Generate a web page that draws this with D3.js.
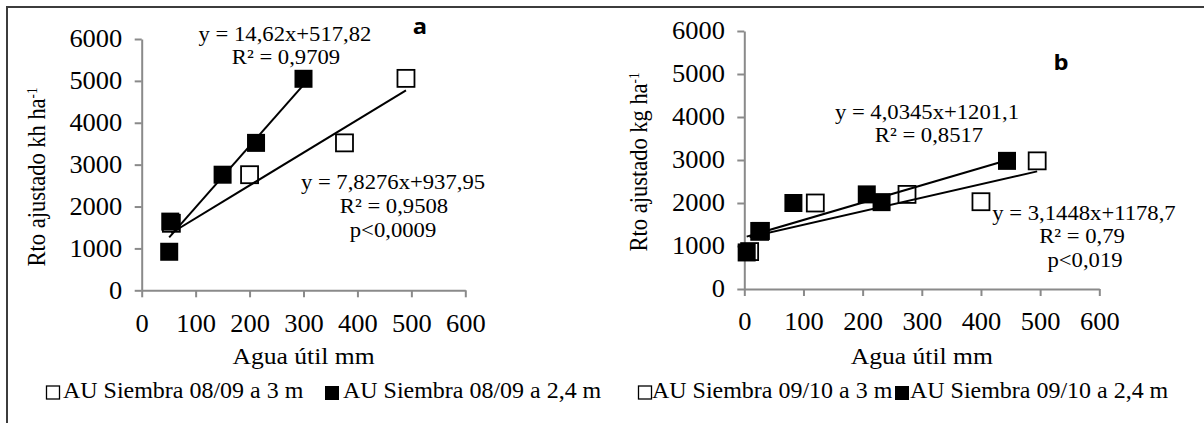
<!DOCTYPE html>
<html>
<head>
<meta charset="utf-8">
<script src="https://cdn.jsdelivr.net/npm/d3@7"></script>
<style>
  html, body { margin: 0; padding: 0; background: #fff; }
  svg { display: block; }
</style>
</head>
<body>
<svg id="chart" width="1204" height="423"></svg>
<script>
// Tick values shared by both panels
const xTicks = [0, 100, 200, 300, 400, 500, 600];
const yTicks = [0, 1000, 2000, 3000, 4000, 5000, 6000];

// Panel a — campaign 08/09
const aOpenX = [55, 200, 376, 490];
const aOpenY = [1600, 2760, 3520, 5060];
const aFillX = [51, 53, 150, 212, 300];
const aFillY = [920, 1640, 2760, 3520, 5050];

// Panel b — campaign 09/10
const bOpenX = [9, 26, 120, 275, 400, 495];
const bOpenY = [870, 1340, 2000, 2200, 2030, 2980];
const bFillX = [4, 28, 83, 207, 232, 444];
const bFillY = [850, 1350, 2000, 2200, 2020, 2980];

// Linear fits: [slope, intercept]
const aOpenFit = [7.8276, 937.95];
const aFillFit = [14.62, 517.82];
const bOpenFit = [3.1448, 1178.7];
const bFillFit = [4.0345, 1201.1];

// Legend labels
const aLegend = ["AU Siembra 08/09 a 3 m", "AU Siembra 08/09 a 2,4 m"];
const bLegend = ["AU Siembra 09/10 a 3 m", "AU Siembra 09/10 a 2,4 m"];

const SERIF = "'Liberation Serif', 'Times New Roman', Times, serif";
const SX = 1.08;           // slightly wide lettering
const AXIS_COLOR = "#8a8a8a";
const MARK = 18;

const svg = d3.select("#chart");

// outer frame (left and top edges)
svg.append("path")
  .attr("d", "M7,423V7H1204")
  .attr("fill", "none")
  .attr("stroke", "#3c3c3c")
  .attr("stroke-width", 2);

function serifText(sel, size) {
  return sel.style("font-family", SERIF).style("font-size", size + "px").attr("fill", "#000");
}

// text placed at (x, y) with the widened lettering
function label(parent, x, y, size, rot) {
  return serifText(parent.append("text"), size)
    .attr("transform", `translate(${x},${y}) scale(${SX},1)` + (rot ? ` rotate(${rot})` : ""));
}

function drawPanel(p) {
  const x = d3.scaleLinear().domain([0, 600]).range([p.x0, p.x1]);
  const y = d3.scaleLinear().domain([0, 6000]).range([p.y0, p.y1]);
  const g = svg.append("g");

  const yAxis = d3.axisLeft(y).tickValues(yTicks).tickSize(7).tickSizeOuter(0)
    .tickPadding(11).tickFormat(d3.format("d"));
  const xAxis = d3.axisBottom(x).tickValues(xTicks).tickSize(7).tickSizeOuter(0)
    .tickPadding(17).tickFormat(d3.format("d"));

  const ya = g.append("g").attr("transform", `translate(${p.x0},0)`).call(yAxis);
  const xa = g.append("g").attr("transform", `translate(0,${p.y0})`).call(xAxis);
  [ya, xa].forEach(a => {
    a.attr("font-family", null).attr("font-size", null);
    a.select(".domain").attr("stroke", AXIS_COLOR).attr("stroke-width", 2);
    a.selectAll(".tick line").attr("stroke", AXIS_COLOR).attr("stroke-width", 2);
    serifText(a.selectAll(".tick text"), 24.5).attr("transform", `scale(${SX},1)`);
  });
  // keep the x tick labels centred on their ticks after widening
  xa.selectAll(".tick text").attr("transform", `scale(${SX},1)`);

  // axis titles
  label(g, (p.x0 + p.x1) / 2, 364, 23.7).attr("text-anchor", "middle").text("Agua útil mm");

  const yt = label(g, p.ytX, p.ytY, 22.5, -90).attr("text-anchor", "middle");
  yt.append("tspan").text(p.yTitle);
  yt.append("tspan").attr("dy", "-0.55em").style("font-size", "13px").text("-1");

  // markers: open series first, filled series on top
  g.append("g").selectAll("rect")
    .data(d3.zip(p.openX, p.openY)).join("rect")
    .attr("x", d => x(d[0]) - (MARK - 1) / 2)
    .attr("y", d => y(d[1]) - (MARK - 1) / 2)
    .attr("width", MARK - 1).attr("height", MARK - 1)
    .attr("fill", "#fff").attr("stroke", "#000").attr("stroke-width", 1.8);

  g.append("g").selectAll("rect")
    .data(d3.zip(p.fillX, p.fillY)).join("rect")
    .attr("x", d => x(d[0]) - MARK / 2)
    .attr("y", d => y(d[1]) - MARK / 2)
    .attr("width", MARK).attr("height", MARK)
    .attr("fill", "#000");

  // trend lines from the fitted equations, over each series' x range
  const line = d3.line().x(d => x(d[0])).y(d => y(d[1]));
  [[p.openX, p.openFit], [p.fillX, p.fillFit]].forEach(([xs, fit]) => {
    const ext = d3.extent(xs);
    g.append("path")
      .attr("d", line(ext.map(v => [v, fit[0] * v + fit[1]])))
      .attr("fill", "none").attr("stroke", "#000").attr("stroke-width", 2);
  });

  // equation labels
  p.labels.forEach(l => {
    label(g, l.x, l.y, 21).attr("text-anchor", "middle").text(l.t);
  });

  // panel letter
  g.append("text")
    .attr("transform", `translate(${p.letter.x},${p.letter.y}) scale(${SX},1)`)
    .attr("text-anchor", "middle")
    .style("font-family", "'Open Sans', 'Liberation Sans', sans-serif")
    .style("font-weight", 700).style("font-size", "22px")
    .attr("fill", "#000").text(p.letter.t);

  // legend
  const lg = g.append("g");
  const S = 14;
  lg.append("rect").attr("x", p.leg[0]).attr("y", 386).attr("width", S - 1).attr("height", S - 1)
    .attr("fill", "#fff").attr("stroke", "#000").attr("stroke-width", 1.3);
  label(lg, p.leg[1], 398, 22.2).text(p.legend[0]);
  lg.append("rect").attr("x", p.leg[2]).attr("y", 386).attr("width", S).attr("height", S)
    .attr("fill", "#000");
  label(lg, p.leg[3], 398, 22.2).text(p.legend[1]);
}

drawPanel({
  x0: 141.7, x1: 465.3, y0: 290.3, y1: 39,
  openX: aOpenX, openY: aOpenY, fillX: aFillX, fillY: aFillY,
  openFit: aOpenFit, fillFit: aFillFit,
  yTitle: "Rto ajustado kh ha", ytX: 45, ytY: 177,
  labels: [
    { x: 285, y: 41, t: "y = 14,62x+517,82" },
    { x: 286, y: 64, t: "R² = 0,9709" },
    { x: 393, y: 189, t: "y = 7,8276x+937,95" },
    { x: 394, y: 213, t: "R² = 0,9508" },
    { x: 393, y: 237, t: "p<0,0009" }
  ],
  letter: { x: 420, y: 34, t: "a" },
  legend: aLegend, leg: [46.5, 63, 325, 343]
});

drawPanel({
  x0: 744.3, x1: 1099.3, y0: 289, y1: 31,
  openX: bOpenX, openY: bOpenY, fillX: bFillX, fillY: bFillY,
  openFit: bOpenFit, fillFit: bFillFit,
  yTitle: "Rto  ajustado kg ha", ytX: 647, ytY: 162,
  labels: [
    { x: 927, y: 119, t: "y = 4,0345x+1201,1" },
    { x: 929, y: 142, t: "R² = 0,8517" },
    { x: 1084, y: 220, t: "y = 3,1448x+1178,7" },
    { x: 1082, y: 243, t: "R² = 0,79" },
    { x: 1085, y: 267, t: "p<0,019" }
  ],
  letter: { x: 1061, y: 70, t: "b" },
  legend: bLegend, leg: [638.5, 652, 895, 910]
});
</script>
</body>
</html>
